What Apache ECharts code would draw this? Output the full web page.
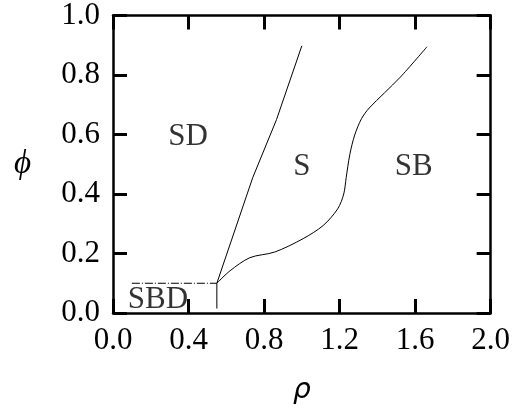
<!DOCTYPE html>
<html>
<head>
<meta charset="utf-8">
<script src="https://cdn.jsdelivr.net/npm/echarts@6/dist/echarts.min.js"></script>
<style>
  html, body { margin: 0; padding: 0; background: #fff; }
  #main { width: 513px; height: 410px; }
</style>
</head>
<body>
<div id="main"></div>
<script>
// phase boundaries, [rho, phi]
var sbdLine = [[0.1, 0.1], [0.55, 0.1]];
var sbdVertical = [[0.55, 0.1], [0.55, 0.015]];
var sdBoundary = [[0.55, 0.1], [0.74, 0.455], [0.866, 0.65], [1.0, 0.898]];
var sbBoundary = [
    [0.55, 0.1], [0.62, 0.142], [0.725, 0.186], [0.857, 0.205], [1.007, 0.25],
    [1.113, 0.294], [1.19, 0.35], [1.222, 0.40], [1.235, 0.455], [1.254, 0.532],
    [1.28, 0.598], [1.316, 0.653], [1.357, 0.689], [1.519, 0.791], [1.663, 0.895]
];
// region names and where they sit
var regionNames = ['SD', 'S', 'SB', 'SBD'];
var regionPos = [[0.397, 0.591], [1.0, 0.492], [1.593, 0.492], [0.238, 0.043]];

var serif = 'Liberation Serif';
var myChart = echarts.init(document.getElementById('main'));

function frameAxis(pos, isX, showLabel) {
    return {
        type: 'value',
        position: pos,
        min: 0,
        max: isX ? 2 : 1,
        interval: isX ? 0.4 : 0.2,
        axisLine: { show: true, onZero: false, lineStyle: { color: '#000', width: 2.5 } },
        axisTick: { show: true, inside: true, length: 14, lineStyle: { color: '#000', width: 3 } },
        axisLabel: {
            show: showLabel,
            color: '#000',
            fontFamily: serif,
            fontSize: 31,
            margin: isX ? 12 : 13,
            formatter: function (v) { return v.toFixed(1); }
        },
        splitLine: { show: false }
    };
}

var xMain = frameAxis('bottom', true, true);
xMain.name = 'ρ';
xMain.nameLocation = 'middle';
xMain.nameGap = 64;
xMain.nameTextStyle = { fontFamily: 'DejaVu Sans', fontStyle: 'italic', fontSize: 28, color: '#000' };

var yMain = frameAxis('left', false, true);
yMain.name = 'ϕ';
yMain.nameLocation = 'middle';
yMain.nameRotate = 0;
yMain.nameGap = 82;
yMain.nameTextStyle = { fontFamily: serif, fontStyle: 'italic', fontSize: 33, color: '#000', padding: [8, 0, 0, 0] };

function boundary(data, dashed, smooth) {
    return {
        type: 'line',
        data: data,
        symbol: 'none',
        smooth: smooth,
        silent: true,
        lineStyle: { color: '#000', width: 1, type: dashed ? [8, 2, 1, 2] : 'solid' }
    };
}

var labelData = regionNames.map(function (n, i) {
    return { value: regionPos[i], name: n };
});

var option = {
    animation: false,
    grid: { left: 113, right: 22, top: 15, bottom: 92 },
    xAxis: [xMain, frameAxis('top', true, false)],
    yAxis: [yMain, frameAxis('right', false, false)],
    series: [
        boundary(sbdLine, true, false),
        boundary(sbdVertical, false, false),
        boundary(sdBoundary, false, false),
        boundary(sbBoundary, false, 0.3),
        {
            type: 'scatter',
            data: labelData,
            symbolSize: 0,
            silent: true,
            label: {
                show: true,
                position: 'inside',
                formatter: '{b}',
                fontFamily: serif,
                fontSize: 31,
                color: '#000'
            }
        }
    ]
};
myChart.setOption(option);
</script>
</body>
</html>
